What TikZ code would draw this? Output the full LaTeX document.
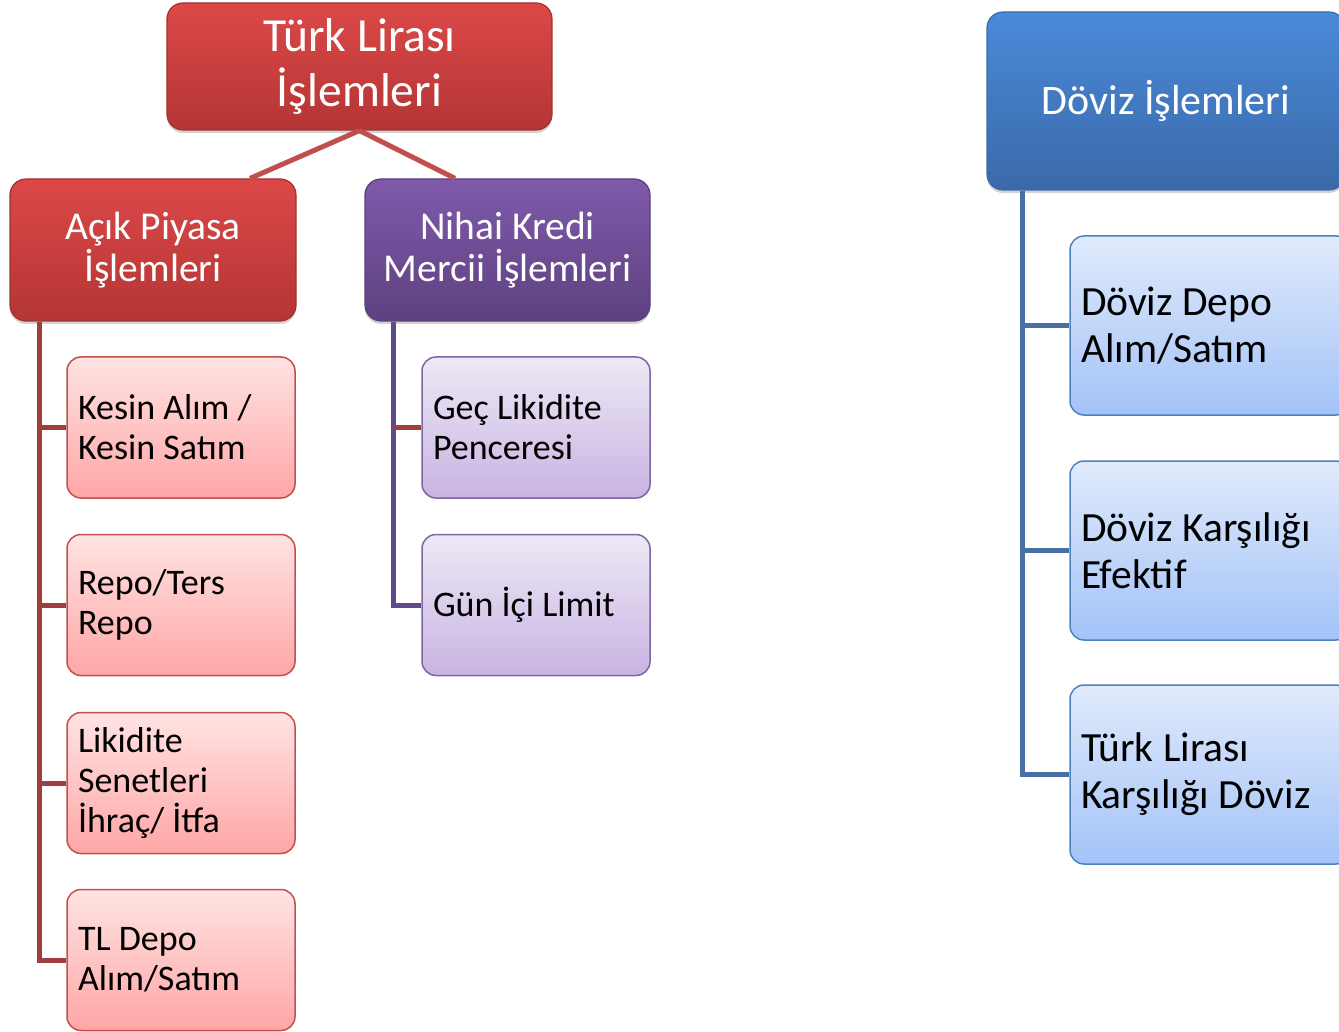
\documentclass[tikz,border=0pt]{standalone}
\usepackage{fontspec}
\setmainfont{Carlito}
\usetikzlibrary{shadows}
\definecolor{redTop}{HTML}{DC4848}
\definecolor{redBot}{HTML}{B53535}
\definecolor{redEdge}{HTML}{9C3232}
\definecolor{purTop}{HTML}{7F5AAB}
\definecolor{purBot}{HTML}{5E4180}
\definecolor{purEdge}{HTML}{5A3F7C}
\definecolor{bluTop}{HTML}{4A8AD9}
\definecolor{bluBot}{HTML}{3A69A8}
\definecolor{bluEdge}{HTML}{3D6AA3}
\definecolor{lredTop}{HTML}{FFE3E3}
\definecolor{lredBot}{HTML}{FFA6A6}
\definecolor{lredEdge}{HTML}{C0504D}
\definecolor{lpurTop}{HTML}{EEE8F6}
\definecolor{lpurBot}{HTML}{C8B4E2}
\definecolor{lpurEdge}{HTML}{8064A2}
\definecolor{lbluTop}{HTML}{E0EAFB}
\definecolor{lbluBot}{HTML}{A3C3F8}
\definecolor{lbluEdge}{HTML}{4F81BD}
\definecolor{redLine}{HTML}{A03E3E}
\definecolor{topLine}{HTML}{C0504D}
\definecolor{purLine}{HTML}{5F4B8B}
\definecolor{bluLine}{HTML}{4A6FA3}
\tikzset{
  headbox/.style={draw, line width=1.2pt, rounded corners=16pt, align=center,
    text=white, drop shadow={opacity=0.35, shadow xshift=0pt, shadow yshift=-3pt}},
  childbox/.style={draw, line width=1.5pt, rounded corners=14pt, align=flush left,
    text=black, inner xsep=11pt, inner ysep=0pt},
  redhead/.style={headbox, top color=redTop, bottom color=redBot, draw=redEdge},
  purhead/.style={headbox, top color=purTop, bottom color=purBot, draw=purEdge},
  bluhead/.style={headbox, top color=bluTop, bottom color=bluBot, draw=bluEdge},
  redchild/.style={childbox, top color=lredTop, bottom color=lredBot, draw=lredEdge,
    minimum height=141pt, text width=206pt, font=\fontsize{36}{40}\selectfont},
  purchild/.style={childbox, top color=lpurTop, bottom color=lpurBot, draw=lpurEdge,
    minimum height=141pt, text width=206pt, font=\fontsize{36}{40}\selectfont},
  bluchild/.style={childbox, top color=lbluTop, bottom color=lbluBot, draw=lbluEdge,
    minimum height=179pt, text width=258pt, font=\fontsize{41.5}{47}\selectfont},
  conn/.style={line width=5pt}
}
\begin{document}
\begin{tikzpicture}[x=1pt,y=-1pt]
\useasboundingbox (0,0) rectangle (1339,1032);
\clip (0,0) rectangle (1339,1032);
% heads
\node[redhead, minimum width=385pt, minimum height=127pt,
  font=\fontsize{47.5}{56}\selectfont] (tl) at (359.5,66.5) {Türk Lirası\\[-1pt]İşlemleri};
\node[redhead, minimum width=286pt, minimum height=142pt,
  font=\fontsize{39.5}{42}\selectfont] (acik) at (153,250) {Açık Piyasa\\İşlemleri};
\node[purhead, minimum width=285pt, minimum height=142pt,
  font=\fontsize{39.5}{42}\selectfont] (nihai) at (507.5,250) {Nihai Kredi\\Mercii İşlemleri};
\node[bluhead, minimum width=358pt, minimum height=178pt,
  font=\fontsize{42}{47}\selectfont] (doviz) at (1166,101) {Döviz İşlemleri};
% children left
\node[redchild] (k1) at (181,427.5) {Kesin Alım /\\Kesin Satım};
\node[redchild] (k2) at (181,605) {Repo/Ters\\Repo};
\node[redchild] (k3) at (181,783) {Likidite\\Senetleri\\İhraç/ İtfa};
\node[redchild] (k4) at (181,960) {TL Depo\\Alım/Satım};
% children purple
\node[purchild] (p1) at (536,427.5) {Geç Likidite\\Penceresi};
\node[purchild] (p2) at (536,605) {Gün İçi Limit};
% children blue
\node[bluchild] (b1) at (1210,325.5) {Döviz Depo\\Alım/Satım};
\node[bluchild] (b2) at (1210,550.5) {Döviz Karşılığı\\Efektif};
\node[bluchild] (b3) at (1210,774.5) {Türk Lirası\\Karşılığı Döviz};
% connectors
\draw[conn, topLine] (tl.south) -- ([xshift=97pt]acik.north);
\draw[conn, topLine] (tl.south) -- ([xshift=-52.5pt]nihai.north);
\coordinate (at) at ([xshift=30pt]acik.south west);
\foreach \c in {k1,k2,k3,k4}
  \draw[conn, redLine] (at) |- (\c.west);
\coordinate (nt) at ([xshift=29pt]nihai.south west);
\draw[conn, purLine] (nt) |- (p2.west);
\draw[conn, redLine] (p1.west -| nt) -- (p1.west);
\coordinate (bt) at ([xshift=36pt]doviz.south west);
\foreach \c in {b1,b2,b3}
  \draw[conn, bluLine] (bt) |- (\c.west);
\end{tikzpicture}
\end{document}
